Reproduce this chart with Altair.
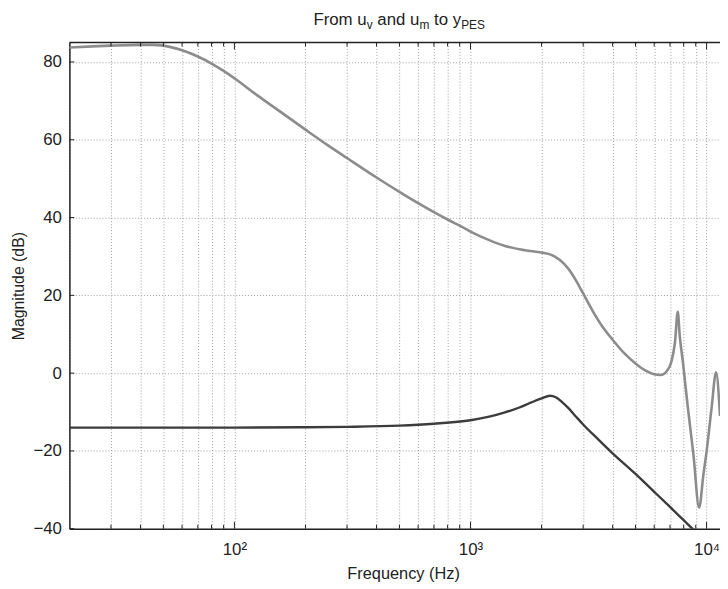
import altair as alt
import pandas as pd

# ---- data ----
freq_upper = [20, 25, 30, 40, 45, 50, 60, 70, 80, 90, 100, 125, 150, 200, 250, 300, 400,
              500, 600, 700, 800, 900, 1000, 1200, 1400, 1700, 2000, 2200, 2400, 2600,
              2800, 3000, 3300, 3600, 4000, 4500, 5000, 5500, 6000, 6400, 6800, 7100,
              7350, 7550, 7700, 7950, 8300, 8800, 9300, 9700, 10000, 10500, 10970, 11400]
mag_upper = [83.7, 84.0, 84.2, 84.4, 84.4, 84.2, 83.0, 81.4, 79.6, 77.7, 75.8, 71.4, 68.0,
             62.6, 58.5, 55.3, 50.3, 46.6, 43.7, 41.4, 39.5, 37.9, 36.4, 34.2, 32.7, 31.6,
             31.0, 30.4, 29.0, 26.8, 23.8, 20.5, 15.9, 12.2, 8.6, 5.0, 2.5, 0.7, -0.3,
             -0.5, 0.6, 3.0, 8.0, 15.8, 9.5, 2.5, -8.0, -21.0, -34.6, -26.0, -20.2, -9.0,
             0.2, -11.0]

freq_lower = [20, 50, 100, 200, 300, 500, 700, 1000, 1200, 1400, 1600, 1800, 2000, 2170,
              2300, 2450, 2600, 2800, 3000, 3500, 4000, 5000, 6000, 7000, 8000, 9000, 9500]
mag_lower = [-14.0, -14.0, -14.0, -13.9, -13.8, -13.5, -13.0, -12.1, -11.2, -10.1, -8.9,
             -7.6, -6.5, -5.8, -6.2, -7.5, -9.0, -11.2, -13.2, -17.2, -20.6, -25.9, -30.5,
             -34.4, -37.8, -40.8, -42.1]

x_grid = [20, 30, 40, 50, 60, 70, 80, 90, 100, 200, 300, 400, 500, 600, 700, 800, 900,
          1000, 2000, 3000, 4000, 5000, 6000, 7000, 8000, 9000, 10000]
x_major = [100, 1000, 10000]
y_ticks = [-40, -20, 0, 20, 40, 60, 80]

# title "From u_v and u_m to y_PES": (text, is_subscript, space before)
title_parts = [("From u", False, False), ("v", True, False), ("and u", False, True),
               ("m", True, False), ("to y", False, True), ("PES", True, False)]
x_title = "Frequency (Hz)"
y_title = "Magnitude (dB)"

# ---- layout ----
W, H = 657, 491
FONT = "Liberation Sans"
INK = "#222222"

xscale = alt.Scale(type="log", domain=[20, 11400], nice=False)
yscale = alt.Scale(domain=[-40, 85], nice=False)

df_u = pd.DataFrame({"f": freq_upper, "m": mag_upper})
df_l = pd.DataFrame({"f": freq_lower, "m": mag_lower})

x_enc = alt.X(
    "f:Q", scale=xscale,
    axis=alt.Axis(
        values=x_grid, grid=True, ticks=False, domain=True,
        domainColor=INK, domainWidth=1.5,
        gridColor="#a0a0a0", gridDash=[1, 2], gridWidth=1,
        labelExpr="datum.value == 100 ? '10²' : datum.value == 1000 ? '10³' : datum.value == 10000 ? '10⁴' : ''",
        labelFont=FONT, labelFontSize=17, labelColor=INK, labelPadding=13,
        title=x_title, titleFont=FONT, titleFontSize=16.5, titleFontWeight="normal",
        titleColor=INK, titlePadding=8, titleX=337,
    ),
)
y_enc = alt.Y(
    "m:Q", scale=yscale,
    axis=alt.Axis(
        values=y_ticks, grid=True, ticks=False, domain=True,
        domainColor=INK, domainWidth=1.5,
        gridColor="#a0a0a0", gridDash=[1, 2], gridWidth=1,
        labelExpr="datum.value < 0 ? '−' + abs(datum.value) : '' + datum.value",
        labelFont=FONT, labelFontSize=17, labelColor=INK, labelPadding=8,
        title=y_title, titleFont=FONT, titleFontSize=16, titleFontWeight="normal",
        titleColor=INK, titlePadding=7,
    ),
)

upper = alt.Chart(df_u).mark_line(
    color="#8c8c8c", strokeWidth=2.6, interpolate="monotone", clip=True
).encode(x=x_enc, y=y_enc)

lower = alt.Chart(df_l).mark_line(
    color="#3c3c3c", strokeWidth=2.4, interpolate="monotone", clip=True
).encode(x=alt.X("f:Q", scale=xscale), y=alt.Y("m:Q", scale=yscale))

# inward tick marks (bottom / top / left)
df_minor = pd.DataFrame({"f": [v for v in x_grid if v not in x_major and v != 20]})
df_major = pd.DataFrame({"f": x_major})
df_yt = pd.DataFrame({"m": y_ticks})

tick_layers = []
for d, ln in [(df_minor, 4), (df_major, 7)]:
    tick_layers.append(alt.Chart(d).mark_rule(color=INK, strokeWidth=1).encode(
        x=alt.X("f:Q", scale=xscale), y=alt.value(H), y2=alt.value(H - ln)))
    tick_layers.append(alt.Chart(d).mark_rule(color=INK, strokeWidth=1).encode(
        x=alt.X("f:Q", scale=xscale), y=alt.value(0), y2=alt.value(ln)))
tick_layers.append(alt.Chart(df_yt).mark_rule(color=INK, strokeWidth=1).encode(
    y=alt.Y("m:Q", scale=yscale), x=alt.value(0), x2=alt.value(5)))

top_border = alt.Chart(pd.DataFrame({"a": [0]})).mark_rule(
    color=INK, strokeWidth=1.5).encode(x=alt.value(0), x2=alt.value(W), y=alt.value(0))

# title with subscripts built from text pieces (Arial/Liberation advance widths, em)
MAIN, SUB = 17, 12
SPACE_EM = 0.278
widths_em = {"From u": 3.167, "v": 0.5, "and u": 2.502, "m": 0.833, "to y": 1.612, "PES": 2.001}
total = 0.0
for t, sub, sp in title_parts:
    total += (SPACE_EM * MAIN if sp else 0) + widths_em[t] * (SUB if sub else MAIN)
cx = 333 - total / 2
title_layers = []
for t, sub, sp in title_parts:
    if sp:
        cx += SPACE_EM * MAIN
    s = SUB if sub else MAIN
    title_layers.append(
        alt.Chart(pd.DataFrame({"t": [t]})).mark_text(
            align="left", baseline="alphabetic", font=FONT, fontSize=s, color=INK
        ).encode(text="t:N", x=alt.value(cx), y=alt.value(-14 if sub else -18))
    )
    cx += widths_em[t] * s

chart = alt.layer(upper, lower, top_border, *tick_layers, *title_layers).properties(
    width=W, height=H,
    padding={"left": 62, "top": 32, "right": 0, "bottom": 57},
    autosize=alt.AutoSizeParams(type="none"),
).configure_view(stroke=None)

chart.save("out.html", embed_options={"renderer": "svg", "actions": False})
